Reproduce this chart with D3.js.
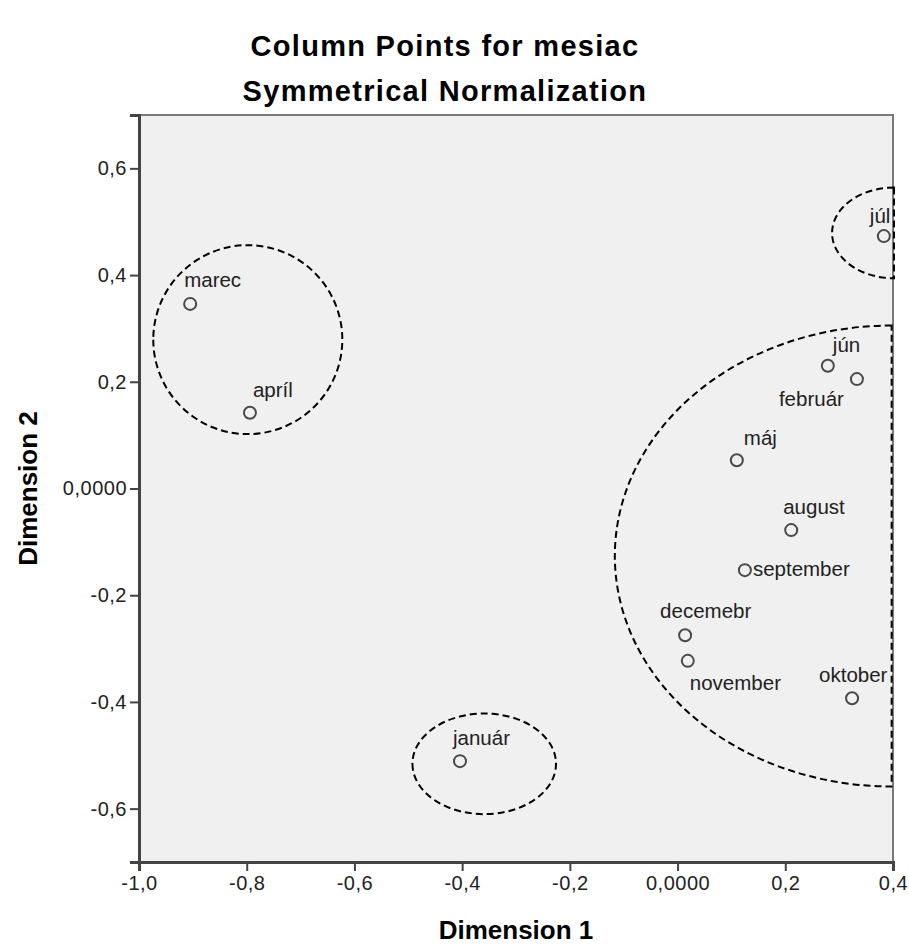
<!DOCTYPE html>
<html>
<head>
<meta charset="utf-8">
<script src="https://cdn.jsdelivr.net/npm/d3@7/dist/d3.min.js"></script>
<style>
  html, body { margin: 0; padding: 0; background: #ffffff; }
  svg { display: block; }
  text { font-family: "Liberation Sans", Arial, sans-serif; }
</style>
</head>
<body>
<svg id="chart" width="909" height="949"></svg>
<script>
// Column points (correspondence analysis, symmetrical normalization)
const months = ["marec", "apríl", "január", "júl", "jún", "február", "máj",
                "august", "september", "decemebr", "november", "oktober"];
const dim1 = [-0.905, -0.794, -0.404, 0.383, 0.279, 0.333, 0.110,
              0.211, 0.125, 0.014, 0.019, 0.324];
const dim2 = [0.346, 0.142, -0.511, 0.473, 0.230, 0.205, 0.053,
              -0.078, -0.153, -0.275, -0.323, -0.393];

// Label placement relative to each point (pixels)
const labelDx = [-6, 3, -7, -14, 5, -78, 7, -8, 8, -25, 2, -33];
const labelDy = [-17, -16, -16, -13, -14, 27, -15, -16, 6, -17, 29, -16];

// Tick values and their printed labels
const xTicks = [-1.0, -0.8, -0.6, -0.4, -0.2, 0.0, 0.2, 0.4];
const xTickLabels = ["-1,0", "-0,8", "-0,6", "-0,4", "-0,2", "0,0000", "0,2", "0,4"];
const yTicks = [0.6, 0.4, 0.2, 0.0, -0.2, -0.4, -0.6];
const yTickLabels = ["0,6", "0,4", "0,2", "0,0000", "-0,2", "-0,4", "-0,6"];

// Dashed cluster outlines in data units; "half" ones are the left half, closed by a vertical edge
const groupCx = [-0.798, -0.359, 0.4018, 0.3975];
const groupCy = [0.279, -0.516, 0.479, -0.1265];
const groupRx = [0.1755, 0.1333, 0.115, 0.514];
const groupRy = [0.177, 0.0943, 0.085, 0.432];
const groupHalf = [false, false, true, true];

const svg = d3.select("#chart");
const plotL = 139, plotR = 893, plotT = 115, plotB = 862;

const x = d3.scaleLinear().domain([-1.0, 0.4]).range([plotL, plotR]);
const y = d3.scaleLinear().domain([-0.7, 0.7]).range([plotB, plotT]);

// Plot background and frame
svg.append("rect")
  .attr("x", plotL).attr("y", plotT)
  .attr("width", plotR - plotL).attr("height", plotB - plotT)
  .attr("fill", "#f0f0f0")
  .attr("stroke", "#7a7a7a").attr("stroke-width", 2);

// Axes
const xAxis = d3.axisBottom(x).tickValues(xTicks).tickSize(9)
  .tickFormat((d, i) => xTickLabels[i]);
const yAxis = d3.axisLeft(y).tickValues(yTicks).tickSize(9)
  .tickFormat((d, i) => yTickLabels[i]);

const gx = svg.append("g").attr("transform", `translate(0,${plotB})`).call(xAxis);
const gy = svg.append("g").attr("transform", `translate(${plotL},0)`).call(yAxis);

[gx, gy].forEach(g => {
  g.select(".domain").attr("stroke", "#444").attr("stroke-width", 3);
  g.selectAll(".tick line").attr("stroke", "#444").attr("stroke-width", 2);
  g.selectAll(".tick text")
    .attr("fill", "#222")
    .style("font-family", "'Liberation Sans', Arial, sans-serif")
    .style("font-size", "20px")
    .style("letter-spacing", "0.5px");
});
gx.selectAll(".tick text").attr("dy", "0.71em").attr("y", 14);
gy.selectAll(".tick text").attr("x", -12);

// Cluster outlines
const groups = groupCx.map((cx, i) => ({
  cx: x(cx), cy: y(groupCy[i]),
  rx: x(cx + groupRx[i]) - x(cx),
  ry: y(groupCy[i] - groupRy[i]) - y(groupCy[i]),
  half: groupHalf[i]
}));

svg.append("g").selectAll("path").data(groups).join("path")
  .attr("d", g => {
    if (g.half) {
      return `M${g.cx},${g.cy - g.ry} A${g.rx},${g.ry} 0 0 0 ${g.cx},${g.cy + g.ry} Z`;
    }
    return `M${g.cx - g.rx},${g.cy} A${g.rx},${g.ry} 0 1 0 ${g.cx + g.rx},${g.cy} A${g.rx},${g.ry} 0 1 0 ${g.cx - g.rx},${g.cy} Z`;
  })
  .attr("fill", "none")
  .attr("stroke", "#000")
  .attr("stroke-width", 2)
  .attr("stroke-dasharray", "7,4");

// Points
const pts = months.map((m, i) => ({ name: m, d1: dim1[i], d2: dim2[i], dx: labelDx[i], dy: labelDy[i] }));

svg.append("g").selectAll("circle").data(pts).join("circle")
  .attr("cx", d => x(d.d1))
  .attr("cy", d => y(d.d2))
  .attr("r", 6)
  .attr("fill", "none")
  .attr("stroke", "#4a4a4a")
  .attr("stroke-width", 2);

svg.append("g").selectAll("text").data(pts).join("text")
  .attr("x", d => x(d.d1) + d.dx)
  .attr("y", d => y(d.d2) + d.dy)
  .attr("fill", "#222")
  .style("font-size", "20.5px")
  .text(d => d.name);

// Titles
const titleLines = ["Column Points for mesiac", "Symmetrical Normalization"];
svg.append("g").selectAll("text").data(titleLines).join("text")
  .attr("x", 445).attr("y", (d, i) => 56 + i * 45)
  .attr("text-anchor", "middle")
  .style("font-size", "29px").style("font-weight", "bold")
  .style("letter-spacing", "1.3px")
  .attr("fill", "#000")
  .text(d => d);

svg.append("text")
  .attr("x", (plotL + plotR) / 2).attr("y", 939)
  .attr("text-anchor", "middle")
  .style("font-size", "26px").style("font-weight", "bold")
  .attr("fill", "#000")
  .text("Dimension 1");

svg.append("text")
  .attr("transform", `translate(37,${(plotT + plotB) / 2}) rotate(-90)`)
  .attr("text-anchor", "middle")
  .style("font-size", "26px").style("font-weight", "bold")
  .attr("fill", "#000")
  .text("Dimension 2");
</script>
</body>
</html>
